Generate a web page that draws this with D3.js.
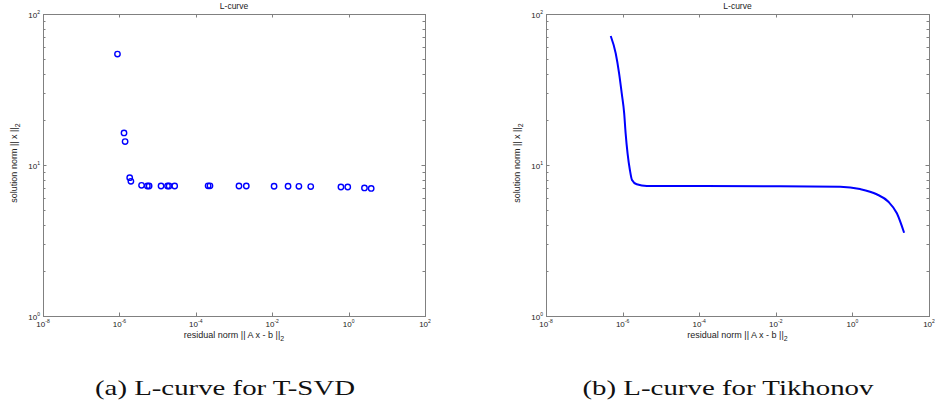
<!DOCTYPE html>
<html>
<head>
<meta charset="utf-8">
<script src="https://cdn.jsdelivr.net/npm/d3@7"></script>
<style>
  body { margin: 0; background: #fff; }
  text { font-family: "Liberation Sans", Arial, sans-serif; fill: #222; }
  .caption { font-family: "Liberation Serif", "DejaVu Serif", serif; fill: #111; }
</style>
</head>
<body>
<div id="viz"></div>
<script>
const width = 935;
const height = 407;

// T-SVD L-curve points (residual norm, solution norm)
const tsvdResidual = [8.9e-7, 1.32e-6, 1.41e-6, 1.86e-6, 2.0e-6, 3.8e-6, 5.4e-6, 6.0e-6,
    1.23e-5, 1.82e-5, 2.0e-5, 2.8e-5, 2.1e-4, 2.35e-4, 1.35e-3, 2.1e-3,
    1.12e-2, 2.6e-2, 5.0e-2, 1.02e-1, 0.63, 0.95, 2.6, 3.9];
const tsvdSolution = [54.3, 16.3, 14.3, 8.24, 7.8, 7.34, 7.26, 7.26,
    7.26, 7.26, 7.26, 7.26, 7.28, 7.28, 7.26, 7.26,
    7.23, 7.23, 7.22, 7.2, 7.15, 7.15, 7.05, 7.0];

// Tikhonov L-curve (residual norm, solution norm)
const tikhResidual = [4.9e-7, 6.6e-7, 8.1e-7, 9.5e-7, 1.1e-6, 1.2e-6, 1.35e-6, 1.55e-6,
    1.76e-6, 2.34e-6, 4.3e-6, 1.0e-4, 1.3e-2, 0.48, 1.58, 4.3, 8.7, 14.5, 22.4];
const tikhSolution = [71.5, 55, 40.5, 29.8, 22, 16.2, 11.9, 9.27,
    7.96, 7.45, 7.26, 7.25, 7.24, 7.18, 6.93, 6.40, 5.71, 4.79, 3.56];

const xTicks = [1e-8, 1e-6, 1e-4, 1e-2, 1e0, 1e2];
const xTickExp = ["-8", "-6", "-4", "-2", "0", "2"];
const yTicks = [1, 10, 100];
const yTickExp = ["0", "1", "2"];
const yMinor = [2, 3, 4, 5, 6, 7, 8, 9, 20, 30, 40, 50, 60, 70, 80, 90];

const svg = d3.select('#viz')
    .append("svg")
    .attr('width', width)
    .attr('height', height);

const axisColor = "#808080";

function drawPanel(box, caption, draw) {
    const xScale = d3.scaleLog().domain([1e-8, 1e2]).range([box.left, box.right]);
    const yScale = d3.scaleLog().domain([1, 100]).range([box.bottom, box.top]);
    const g = svg.append("g");

    // frame
    g.append("rect")
        .attr("x", box.left + 0.5).attr("y", box.top + 0.5)
        .attr("width", box.right - box.left).attr("height", box.bottom - box.top)
        .attr("fill", "none").attr("stroke", axisColor).attr("stroke-width", 1);

    // x ticks, top and bottom, pointing in
    xTicks.slice(1, -1).forEach(t => {
        const x = Math.round(xScale(t)) + 0.5;
        g.append("line").attr("x1", x).attr("x2", x).attr("y1", box.bottom).attr("y2", box.bottom - 3.5)
            .attr("stroke", axisColor);
        g.append("line").attr("x1", x).attr("x2", x).attr("y1", box.top).attr("y2", box.top + 3.5)
            .attr("stroke", axisColor);
    });
    // y ticks, left and right
    yTicks.concat(yMinor).forEach(t => {
        const y = Math.round(yScale(t)) + 0.5;
        const len = yTicks.includes(t) ? 3.5 : 2.5;
        g.append("line").attr("x1", box.left).attr("x2", box.left + len).attr("y1", y).attr("y2", y)
            .attr("stroke", axisColor);
        g.append("line").attr("x1", box.right).attr("x2", box.right - len).attr("y1", y).attr("y2", y)
            .attr("stroke", axisColor);
    });

    // x tick labels
    xTicks.forEach((t, i) => {
        const txt = g.append("text")
            .attr("x", xScale(t)).attr("y", box.bottom + 11)
            .attr("text-anchor", "middle")
            .attr("font-size", 8);
        txt.append("tspan").text("10");
        txt.append("tspan").attr("dy", -4).attr("font-size", 5).text(xTickExp[i]);
    });
    // y tick labels
    yTicks.forEach((t, i) => {
        const txt = g.append("text")
            .attr("x", box.left - 3).attr("y", yScale(t) + 4)
            .attr("text-anchor", "end")
            .attr("font-size", 8);
        txt.append("tspan").text("10");
        txt.append("tspan").attr("dy", -4).attr("font-size", 5).text(yTickExp[i]);
    });

    const cx = (box.left + box.right) / 2;
    const cy = (box.top + box.bottom) / 2;

    // title
    g.append("text").attr("x", cx).attr("y", 9).attr("text-anchor", "middle")
        .attr("font-size", 8.5).text("L-curve");

    // x label
    const xl = g.append("text").attr("x", cx).attr("y", box.bottom + 21.5)
        .attr("text-anchor", "middle").attr("font-size", 9);
    xl.append("tspan").text("residual norm || A x - b ||");
    xl.append("tspan").attr("dy", 3).attr("font-size", 7).text("2");

    // y label
    const yl = g.append("text")
        .attr("transform", `translate(${box.left - 26}, ${cy - 2}) rotate(-90)`)
        .attr("text-anchor", "middle").attr("font-size", 9);
    yl.append("tspan").text("solution norm || x ||");
    yl.append("tspan").attr("dy", 3).attr("font-size", 7).text("2");

    // caption
    svg.append("text").attr("class", "caption")
        .attr("x", caption.x).attr("y", 395)
        .attr("text-anchor", "middle")
        .attr("font-size", 21)
        .attr("textLength", caption.len)
        .attr("lengthAdjust", "spacingAndGlyphs")
        .text(caption.text);

    draw(g, xScale, yScale);
}

drawPanel({ left: 43, right: 425, top: 14, bottom: 316 },
    { x: 225, len: 260, text: "(a) L-curve for T-SVD" },
    (g, xScale, yScale) => {
        g.selectAll("circle")
            .data(tsvdResidual.map((r, i) => [r, tsvdSolution[i]]))
            .enter()
            .append("circle")
            .attr("cx", d => xScale(d[0]))
            .attr("cy", d => yScale(d[1]))
            .attr("r", 2.7)
            .attr("fill", "none")
            .attr("stroke", "#0000ff")
            .attr("stroke-width", 1.4);
    });

drawPanel({ left: 546, right: 929, top: 14, bottom: 316 },
    { x: 728, len: 291, text: "(b) L-curve for Tikhonov" },
    (g, xScale, yScale) => {
        const line = d3.line()
            .x(d => xScale(d[0]))
            .y(d => yScale(d[1]))
            .curve(d3.curveMonotoneX);
        g.append("path")
            .datum(tikhResidual.map((r, i) => [r, tikhSolution[i]]))
            .attr("fill", "none")
            .attr("stroke", "#0000ff")
            .attr("stroke-width", 2)
            .attr("d", line);
    });
</script>
</body>
</html>
